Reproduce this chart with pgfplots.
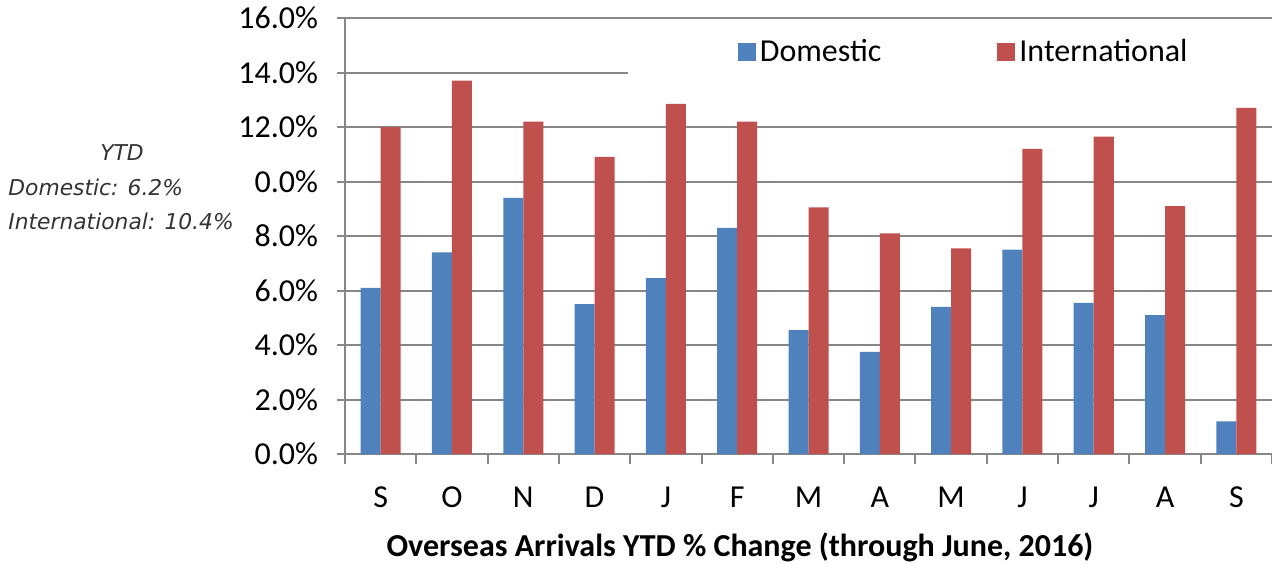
\documentclass[border=0pt]{standalone}
\usepackage{pgfplots}
\pgfplotsset{compat=1.18}
\usepackage{fontspec}
\setmainfont{Carlito}
\newfontfamily\notefont{DejaVu Sans}
\definecolor{domblue}{HTML}{4F81BD}
\definecolor{intred}{HTML}{C0504D}
\definecolor{gridgray}{HTML}{878787}

\begin{document}
\begin{tikzpicture}
\path[use as bounding box] (0,0) rectangle (636pt,282pt);

% year-to-date summary beside the chart
\node[font=\notefont\itshape\fontsize{10.9}{11}\selectfont, text=black!80] at (61pt,205.5pt) {YTD};
\node[font=\notefont\itshape\fontsize{10.9}{11}\selectfont, text=black!80, anchor=west, inner sep=0pt] at (4pt,188.5pt) {Domestic: 6.2\%};
\node[font=\notefont\itshape\fontsize{10.9}{11}\selectfont, text=black!80, anchor=west, inner sep=0pt] at (4pt,171.5pt) {International: 10.4\%};

\begin{axis}[
  at={(172.5pt,55pt)}, anchor=south west,
  width=463.5pt, height=218pt, scale only axis,
  ybar=0pt, bar width=10pt,
  xmin=-0.5, xmax=12.5, ymin=0, ymax=16,
  axis x line*=bottom, axis y line*=left,
  axis line style={gridgray, line width=1pt},
  xtick={0,...,12},
  xticklabels={S,O,N,D,J,F,M,A,M,J,J,A,S},
  minor xtick={-0.5,0.5,...,12.5},
  major x tick style={draw=none},
  minor tick length=5pt,
  minor x tick style={gridgray, line width=1pt},
  ytick={0,2,...,16},
  yticklabels={0.0\%,2.0\%,4.0\%,6.0\%,8.0\%,0.0\%,12.0\%,14.0\%,16.0\%},
  ytick style={gridgray, line width=1pt},
  major tick length=4pt,
  tick align=outside,
  ymajorgrids, major grid style={gridgray, line width=1pt},
  tick label style={font=\fontsize{16}{16}\selectfont},
  yticklabel style={xshift=-6pt},
  xticklabel style={yshift=-9pt},
  legend columns=2,
  legend style={at={(axis cs:8.19,14.75)}, anchor=center, draw=none, fill=none,
    font=\fontsize{16}{16}\selectfont,
    /tikz/every even column/.append style={column sep=56pt}},
  legend image code/.code={\fill[#1] (0pt,-4.5pt) rectangle (9pt,4.5pt);},
]
\addplot[fill=domblue, draw=none] coordinates {
  (0,6.1) (1,7.4) (2,9.4) (3,5.5) (4,6.45) (5,8.3) (6,4.55)
  (7,3.75) (8,5.4) (9,7.5) (10,5.55) (11,5.1) (12,1.2)};
\addlegendentry{Domestic}
\addplot[fill=intred, draw=none] coordinates {
  (0,12.0) (1,13.7) (2,12.2) (3,10.9) (4,12.85) (5,12.2) (6,9.05)
  (7,8.1) (8,7.55) (9,11.2) (10,11.65) (11,9.1) (12,12.7)};
\addlegendentry{International}
% blank panel behind the legend
\fill[white] (axis cs:3.47,13.2) rectangle (axis cs:12.6,15.6);
\end{axis}

\node[font=\bfseries\fontsize{16}{16}\selectfont] at (370pt,8.5pt) {Overseas Arrivals YTD \% Change (through June, 2016)};
\end{tikzpicture}
\end{document}
